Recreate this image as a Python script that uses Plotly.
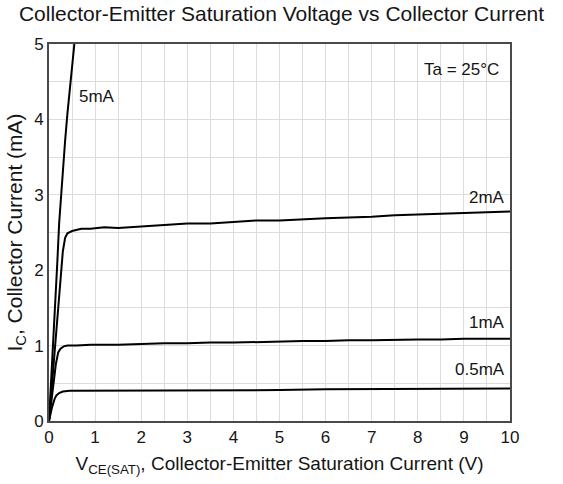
import plotly.graph_objects as go

# Data
v_5ma = [0.0, 0.06, 0.12, 0.18, 0.22, 0.26, 0.30, 0.35, 0.40, 0.45, 0.50, 0.55]
i_5ma = [0.0, 0.65, 1.35, 2.10, 2.62, 2.98, 3.33, 3.72, 4.08, 4.40, 4.72, 5.00]

v_2ma = [0.0, 0.10, 0.20, 0.30, 0.35, 0.40, 0.50, 0.70, 0.90, 1.2, 1.5, 2.0, 2.5, 3.0, 3.5, 4.0, 4.5, 5.0, 5.5, 6.0, 6.5, 7.0, 7.5, 8.0, 8.5, 9.0, 9.5, 10.0]
i_2ma = [0.0, 0.72, 1.50, 2.25, 2.43, 2.49, 2.52, 2.55, 2.55, 2.57, 2.56, 2.58, 2.60, 2.62, 2.62, 2.64, 2.66, 2.66, 2.68, 2.69, 2.70, 2.71, 2.73, 2.74, 2.75, 2.76, 2.77, 2.78]

v_1ma = [0.0, 0.08, 0.15, 0.20, 0.25, 0.32, 0.40, 0.60, 0.90, 1.5, 2.0, 2.5, 3.0, 3.5, 4.0, 4.5, 5.0, 5.5, 6.0, 6.5, 7.0, 7.5, 8.0, 8.5, 9.0, 9.5, 10.0]
i_1ma = [0.0, 0.40, 0.76, 0.91, 0.96, 0.99, 1.00, 1.00, 1.01, 1.01, 1.02, 1.03, 1.03, 1.04, 1.04, 1.05, 1.05, 1.06, 1.06, 1.07, 1.07, 1.08, 1.08, 1.08, 1.09, 1.09, 1.09]

v_05ma = [0.0, 0.06, 0.12, 0.16, 0.22, 0.30, 0.45, 0.90, 2.0, 3.0, 4.0, 5.0, 6.0, 7.0, 8.0, 9.0, 10.0]
i_05ma = [0.0, 0.17, 0.29, 0.34, 0.37, 0.39, 0.40, 0.40, 0.40, 0.41, 0.41, 0.41, 0.42, 0.42, 0.42, 0.42, 0.43]

label_text = ["5mA", "2mA", "1mA", "0.5mA", "Ta = 25°C"]
label_x = [0.6, 10.0, 10.0, 10.0, 9.88]
label_y = [4.3, 2.96, 1.31, 0.68, 4.66]
label_anchor = ["left", "right", "right", "right", "right"]

x_ticks = list(range(0, 11))
y_ticks = list(range(0, 6))

FONT = "Liberation Sans, Arial"
TXT = "#151515"

fig = go.Figure()
line_style = dict(color="black", width=2)
for vx, iy in [(v_5ma, i_5ma), (v_2ma, i_2ma), (v_1ma, i_1ma), (v_05ma, i_05ma)]:
    fig.add_trace(go.Scatter(x=vx, y=iy, mode="lines", line=line_style,
                             showlegend=False, hoverinfo="skip"))

for t, x, y, a in zip(label_text, label_x, label_y, label_anchor):
    fig.add_annotation(x=x, y=y, text=t, showarrow=False, xanchor=a, yanchor="middle",
                       xshift=-3 if a == "right" else 0,
                       font=dict(family=FONT, size=17, color=TXT))

axis_common = dict(
    showgrid=True, gridcolor="#dcdcdc", gridwidth=1,
    showline=True, linecolor="#4a4a4a", linewidth=2, mirror=True,
    zeroline=False, ticks="",
    tickfont=dict(family=FONT, size=17, color=TXT),
)

fig.update_xaxes(range=[0, 10], tickvals=x_ticks,
                 minor=dict(dtick=0.5, showgrid=True, gridcolor="#dcdcdc", gridwidth=1),
                 title=dict(text="V<sub>CE(SAT)</sub>, Collector-Emitter Saturation Current (V)",
                            font=dict(family=FONT, size=19, color=TXT),
                            standoff=10),
                 **axis_common)
fig.update_yaxes(range=[0, 5], tickvals=y_ticks,
                 minor=dict(dtick=0.5, showgrid=True, gridcolor="#dcdcdc", gridwidth=1),
                 title=dict(text="I<sub>C</sub>, Collector Current (mA)",
                            font=dict(family=FONT, size=21, color=TXT),
                            standoff=6),
                 **axis_common)

fig.update_layout(
    width=563, height=484,
    margin=dict(l=49, r=53, t=44, b=63),
    paper_bgcolor="white", plot_bgcolor="white",
    title=dict(text="Collector-Emitter Saturation Voltage vs Collector Current",
               x=0.5, xanchor="center", y=0.972, yanchor="middle",
               font=dict(family=FONT, size=21, color=TXT)),
)

fig.write_html("out.html")
